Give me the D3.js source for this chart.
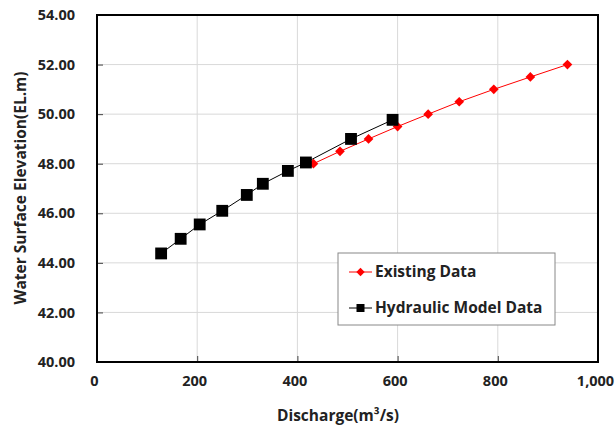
<!DOCTYPE html>
<html>
<head>
<meta charset="utf-8">
<script src="https://cdn.jsdelivr.net/npm/d3@7"></script>
<style>
  body { margin: 0; background: #fff; }
  text { font-family: "Open Sans", "Noto Sans", sans-serif; font-weight: bold; fill: #222; }
</style>
</head>
<body>
<div id="chart"></div>
<script>
'use strict';

let existingQ = [432, 485, 542, 600, 661, 723, 792, 865, 939];
let existingH = [48.0, 48.5, 49.0, 49.5, 50.0, 50.5, 51.0, 51.5, 52.0];
let modelQ = [128, 167, 205, 250, 299, 331, 381, 417, 507, 590];
let modelH = [44.38, 44.97, 45.55, 46.1, 46.74, 47.19, 47.71, 48.05, 49.0, 49.77];
let xTicks = [0, 200, 400, 600, 800, 1000];
let yTicks = [40, 42, 44, 46, 48, 50, 52, 54];
let seriesNames = ["Existing Data", "Hydraulic Model Data"];

let width = 616,
    height = 430,
    margin = { left: 97, top: 15, right: 18, bottom: 68 };

let svg = d3.select("#chart").append("svg")
    .attr("width", width)
    .attr("height", height);

let X = d3.scaleLinear().domain([0, 1000]).range([margin.left, width - margin.right]);
let Y = d3.scaleLinear().domain([40, 54]).range([height - margin.bottom, margin.top]);

// grid
svg.append("g").selectAll("line")
    .data(xTicks.slice(1, -1))
    .enter().append("line")
    .attr("x1", d => X(d)).attr("x2", d => X(d))
    .attr("y1", Y(40)).attr("y2", Y(54))
    .attr("stroke", "#d9d9d9");
svg.append("g").selectAll("line")
    .data(yTicks.slice(1, -1))
    .enter().append("line")
    .attr("x1", X(0)).attr("x2", X(1000))
    .attr("y1", d => Y(d)).attr("y2", d => Y(d))
    .attr("stroke", "#d9d9d9");

// axes (inside ticks)
let xAxis = svg.append("g")
    .attr("transform", "translate(0," + Y(40) + ")")
    .call(d3.axisBottom(X).tickValues(xTicks).tickSize(-6).tickPadding(14)
        .tickFormat(d3.format(",")));
let yAxis = svg.append("g")
    .attr("transform", "translate(" + X(0) + ",0)")
    .call(d3.axisLeft(Y).tickValues(yTicks).tickSize(-6).tickPadding(22)
        .tickFormat(d3.format(".2f")));
[xAxis, yAxis].forEach(a => {
    a.select(".domain").remove();
    a.selectAll(".tick line").attr("stroke", "#444");
    a.selectAll("text").style("font-size", "14.5px").attr("fill", "#222");
});
xAxis.selectAll("text").attr("dx", "-3");

// plot border
svg.append("rect")
    .attr("x", X(0)).attr("y", Y(54))
    .attr("width", X(1000) - X(0)).attr("height", Y(40) - Y(54))
    .attr("fill", "none").attr("stroke", "#000").attr("stroke-width", 2);

let line = d3.line().x(d => X(d[0])).y(d => Y(d[1]));
let existing = existingQ.map((q, i) => [q, existingH[i]]);
let model = modelQ.map((q, i) => [q, modelH[i]]);

svg.append("path").datum(existing)
    .attr("d", line).attr("fill", "none").attr("stroke", "red").attr("stroke-width", 1);
svg.append("path").datum(model)
    .attr("d", line).attr("fill", "none").attr("stroke", "#000").attr("stroke-width", 1);

let diamond = d3.symbol().type(d3.symbolDiamond2).size(60);
let square = d3.symbol().type(d3.symbolSquare).size(140);

svg.append("g").selectAll("path")
    .data(existing)
    .enter().append("path")
    .attr("d", diamond)
    .attr("transform", d => "translate(" + X(d[0]) + "," + Y(d[1]) + ")")
    .attr("fill", "red");
svg.append("g").selectAll("path")
    .data(model)
    .enter().append("path")
    .attr("d", square)
    .attr("transform", d => "translate(" + X(d[0]) + "," + Y(d[1]) + ")")
    .attr("fill", "#000");

// axis titles
svg.append("text")
    .attr("x", 338).attr("y", 421)
    .attr("text-anchor", "middle")
    .style("font-size", "15.5px")
    .text("Discharge(m³/s)");
svg.append("text")
    .attr("transform", "translate(26,188) rotate(-90)")
    .attr("text-anchor", "middle")
    .style("font-size", "15.5px")
    .text("Water Surface Elevation(EL.m)");

// legend
let legend = svg.append("g").attr("transform", "translate(338,253)");
legend.append("rect")
    .attr("width", 217).attr("height", 72)
    .attr("fill", "#fff").attr("stroke", "#888");
let lg = legend.selectAll(".entry")
    .data(seriesNames)
    .enter().append("g")
    .attr("transform", (d, i) => "translate(0," + (19 + i * 36) + ")");
lg.append("line")
    .attr("x1", 11).attr("x2", 34)
    .attr("stroke", (d, i) => i ? "#000" : "red");
lg.append("path")
    .attr("d", (d, i) => i ? d3.symbol().type(d3.symbolSquare).size(64)() : d3.symbol().type(d3.symbolDiamond2).size(45)())
    .attr("transform", "translate(22.5,0)")
    .attr("fill", (d, i) => i ? "#000" : "red");
lg.append("text")
    .attr("x", 37).attr("dy", "0.35em")
    .style("font-size", "15.5px")
    .text(d => d);
</script>
</body>
</html>
